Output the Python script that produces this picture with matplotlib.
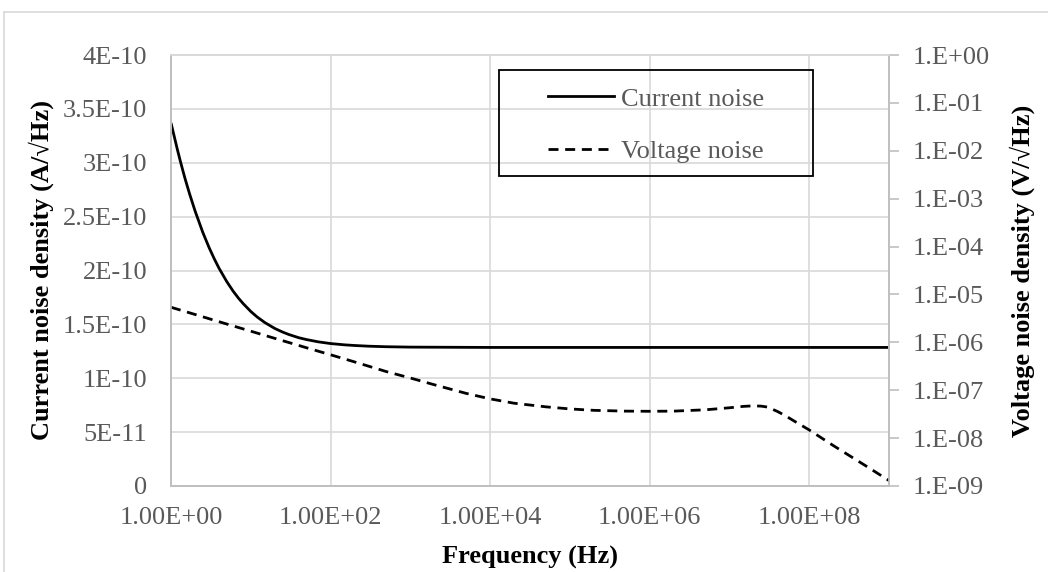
import matplotlib
matplotlib.use("Agg")
import matplotlib.pyplot as plt
from matplotlib.patches import Rectangle
from matplotlib.lines import Line2D

# ---- data ----
freq_current = [1, 1.2, 1.3, 1.4, 1.5, 1.7, 2, 2.5, 3, 3.5, 4, 5, 6, 7, 8, 10,
                12, 15, 20, 25, 30, 40, 50, 70, 100, 150, 200, 300, 500,
                1e3, 1e4, 1e5, 1e6, 1e7, 1e8, 1e9]
current_noise = [3.37e-10, 3.125e-10, 3.024e-10, 2.934e-10, 2.853e-10,
                 2.717e-10, 2.554e-10, 2.355e-10, 2.213e-10, 2.106e-10,
                 2.021e-10, 1.897e-10, 1.809e-10, 1.744e-10, 1.694e-10,
                 1.620e-10, 1.569e-10, 1.517e-10, 1.462e-10, 1.429e-10,
                 1.406e-10, 1.376e-10, 1.359e-10, 1.338e-10, 1.322e-10,
                 1.310e-10, 1.304e-10, 1.2975e-10, 1.2925e-10, 1.289e-10,
                 1.286e-10, 1.286e-10, 1.286e-10, 1.286e-10, 1.286e-10,
                 1.286e-10]

freq_voltage = [1, 2, 5, 10, 20, 50, 100, 200, 500, 1e3, 2e3, 5e3, 1e4, 2e4,
                5e4, 1e5, 2e5, 5e5, 1e6, 2e6, 5e6, 1e7, 1.5e7, 2e7, 2.5e7,
                3e7, 4e7, 5e7, 7e7, 1e8, 2e8, 5e8, 1e9]
voltage_noise = [5.4e-6, 3.82e-6, 2.41e-6, 1.71e-6, 1.21e-6, 7.7e-7, 5.5e-7,
                 3.9e-7, 2.45e-7, 1.80e-7, 1.30e-7, 8.6e-8, 6.6e-8, 5.35e-8,
                 4.5e-8, 4.07e-8, 3.8e-8, 3.66e-8, 3.63e-8, 3.66e-8, 3.9e-8,
                 4.3e-8, 4.6e-8, 4.72e-8, 4.65e-8, 4.45e-8, 3.6e-8, 2.95e-8,
                 2.1e-8, 1.48e-8, 7.0e-9, 2.7e-9, 1.3e-9]

x_ticks = [1, 1e2, 1e4, 1e6, 1e8]
left_ticks = [0, 0.5e-10, 1e-10, 1.5e-10, 2e-10, 2.5e-10, 3e-10, 3.5e-10, 4e-10]
left_labels = ["0", "5E-11", "1E-10", "1.5E-10", "2E-10", "2.5E-10", "3E-10",
               "3.5E-10", "4E-10"]
right_exps = list(range(-9, 1))

series_labels = ["Current noise", "Voltage noise"]
x_label = "Frequency (Hz)"
left_label = "Current noise density (A/\u221aHz)"
right_label = "Voltage noise density (V/\u221aHz)"

# ---- style ----
FONT = ["Liberation Serif", "DejaVu Serif"]
plt.rcParams["font.family"] = FONT
TICK_COLOR = "#595959"
GRID = "#d9d9d9"
AXIS = "#bfbfbf"
FS = 19
DASH = (3.6, 2.4)

W, H = 1048, 572
fig = plt.figure(figsize=(W / 100, H / 100), dpi=100)
ax = fig.add_axes([171 / W, 1 - 486 / H, (889 - 171) / W, (486 - 55) / H])
ax2 = ax.twinx()

ax.plot(freq_current, current_noise, color="black", lw=2, solid_capstyle="butt",
        solid_joinstyle="round")
ax2.plot(freq_voltage, voltage_noise, color="black", lw=2, dashes=DASH)

ax.set_xscale("log")
ax.set_xlim(1, 1e9)
ax.set_ylim(0, 4e-10)
ax2.set_yscale("log")
ax2.set_ylim(1e-9, 1)

ax.set_xticks(x_ticks)
ax.set_xticklabels([f"{v:.2E}" for v in x_ticks])
ax.xaxis.set_minor_locator(matplotlib.ticker.NullLocator())
ax.set_yticks(left_ticks)
ax.set_yticklabels(left_labels)
ax2.set_yticks([10.0 ** e for e in right_exps])
ax2.set_yticklabels([f"1.E{e:+03d}" for e in right_exps])
ax2.yaxis.set_minor_locator(matplotlib.ticker.NullLocator())

ax.grid(True, color=GRID, lw=1.2)
ax.set_axisbelow(True)
ax.tick_params(axis="x", length=0, pad=15, labelsize=FS, labelcolor=TICK_COLOR)
ax.tick_params(axis="y", length=0, pad=17, labelsize=FS, labelcolor=TICK_COLOR)
ax2.tick_params(axis="y", length=7, width=1.2, color=AXIS, pad=10,
                labelsize=FS, labelcolor=TICK_COLOR)

for a in (ax, ax2):
    a.spines["top"].set_color(GRID)
    a.spines["top"].set_linewidth(1.2)
    for s in ("left", "bottom", "right"):
        a.spines[s].set_color(AXIS)
        a.spines[s].set_linewidth(1.2)

fig.text(41 / W, 1 - 270.5 / H, left_label, rotation=90, ha="center", va="center",
         fontsize=FS, fontweight="bold", family=FONT)
fig.text(1022 / W, 1 - 270.5 / H, right_label, rotation=90, ha="center", va="center",
         fontsize=FS, fontweight="bold", family=FONT)
fig.text((171 + 889) / 2 / W, 1 - 557 / H, x_label, ha="center", va="center",
         fontsize=FS, fontweight="bold", family=FONT)

# legend
handles = [Line2D([], [], color="black", lw=2),
           Line2D([], [], color="black", lw=2, dashes=DASH)]
leg = ax2.legend(handles, series_labels, loc="upper left",
                 bbox_to_anchor=((535 - 171) / 718, (486 - 74) / 431),
                 frameon=False, borderpad=0, handlelength=2.5, handletextpad=0.25,
                 labelspacing=1.1, prop={"size": FS, "family": FONT})
for t in leg.get_texts():
    t.set_color(TICK_COLOR)
ax2.add_patch(Rectangle(((499 - 171) / 718, (486 - 176) / 431),
                        (813 - 499) / 718, (176 - 70) / 431,
                        transform=ax2.transAxes, fill=False, edgecolor="black",
                        lw=1.3, zorder=5, clip_on=False))

# outer chart border
fig.add_artist(Line2D([4 / W, 4 / W], [0, 1 - 12 / H], color=GRID, lw=1.2))
fig.add_artist(Line2D([4 / W, 1], [1 - 12 / H, 1 - 12 / H], color=GRID, lw=1.2))

fig.savefig("out.png", dpi=100)
